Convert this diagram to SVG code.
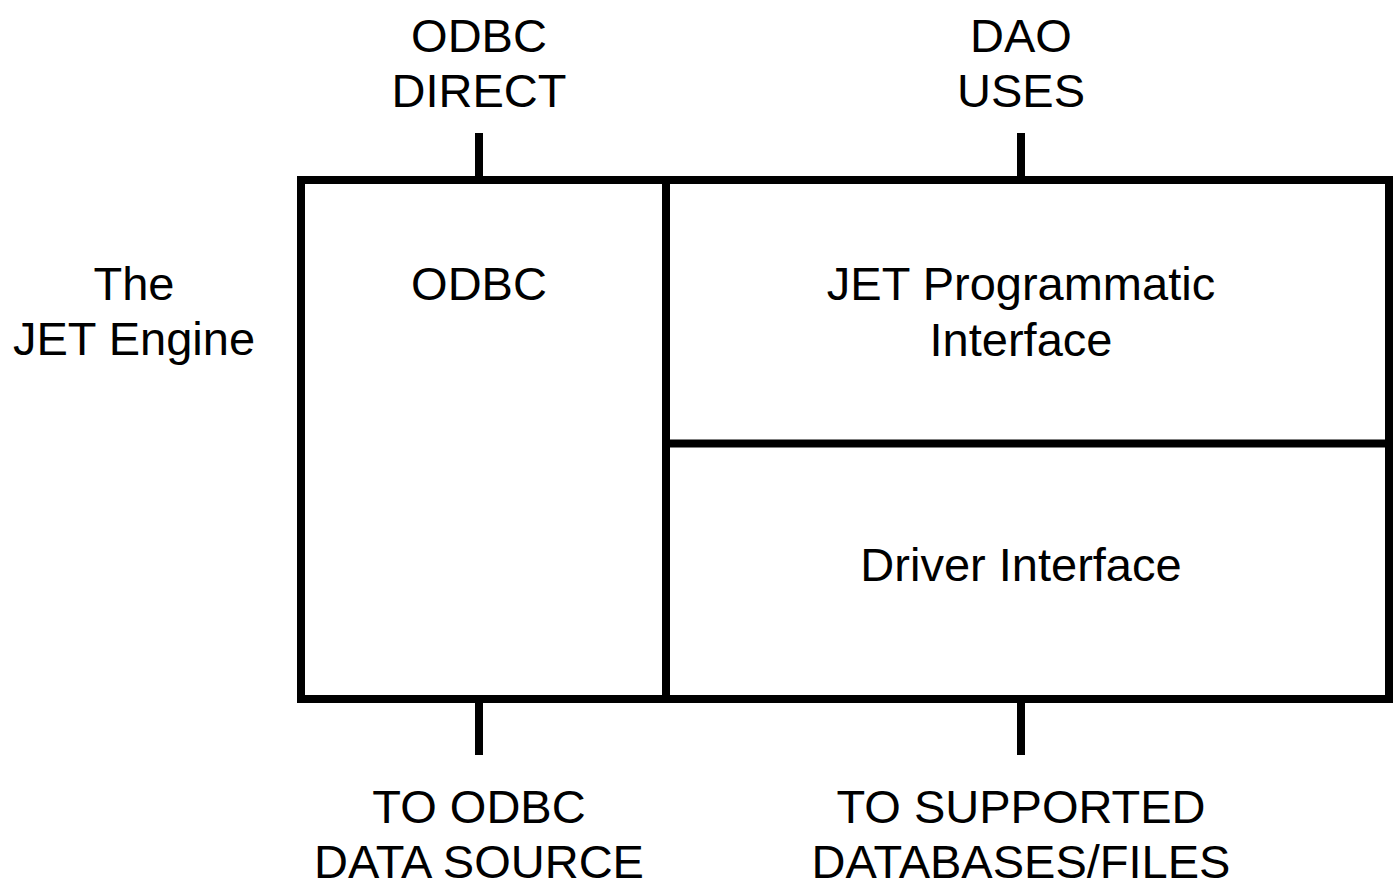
<svg xmlns="http://www.w3.org/2000/svg" width="1399" height="893" viewBox="0 0 1399 893">
<style>
.t{font-family:"Liberation Sans",Arial,sans-serif;font-size:47px;fill:#000;text-anchor:middle}
.b{fill:none;stroke:#000;stroke-width:8}
</style>
<rect width="1399" height="893" fill="#fff"/>
<g id="connectors">
<line class="b" x1="479" y1="133" x2="479" y2="180"/>
<line class="b" x1="1021" y1="133" x2="1021" y2="180"/>
<line class="b" x1="479" y1="699" x2="479" y2="755"/>
<line class="b" x1="1021" y1="699" x2="1021" y2="755"/>
</g>
<g id="jet-engine">
<rect class="b" x="301" y="180" width="1088" height="519"/>
<text class="t" x="134" y="300">The</text>
<text class="t" x="134" y="355">JET Engine</text>
</g>
<g id="odbc">
<line class="b" x1="666" y1="180" x2="666" y2="699"/>
<text class="t" x="479" y="300">ODBC</text>
</g>
<g id="jet-programmatic-interface">
<line class="b" x1="666" y1="443.5" x2="1389" y2="443.5"/>
<text class="t" x="1021" y="300">JET Programmatic</text>
<text class="t" x="1021" y="356">Interface</text>
</g>
<g id="driver-interface">
<text class="t" x="1021" y="581">Driver Interface</text>
</g>
<g id="odbc-direct">
<text class="t" x="479" y="52">ODBC</text>
<text class="t" x="479" y="107">DIRECT</text>
</g>
<g id="dao-uses">
<text class="t" x="1021" y="52">DAO</text>
<text class="t" x="1021" y="107">USES</text>
</g>
<g id="to-odbc">
<text class="t" x="479" y="823">TO ODBC</text>
<text class="t" x="479" y="878">DATA SOURCE</text>
</g>
<g id="to-supported">
<text class="t" x="1021" y="823">TO SUPPORTED</text>
<text class="t" x="1021" y="878">DATABASES/FILES</text>
</g>
</svg>
